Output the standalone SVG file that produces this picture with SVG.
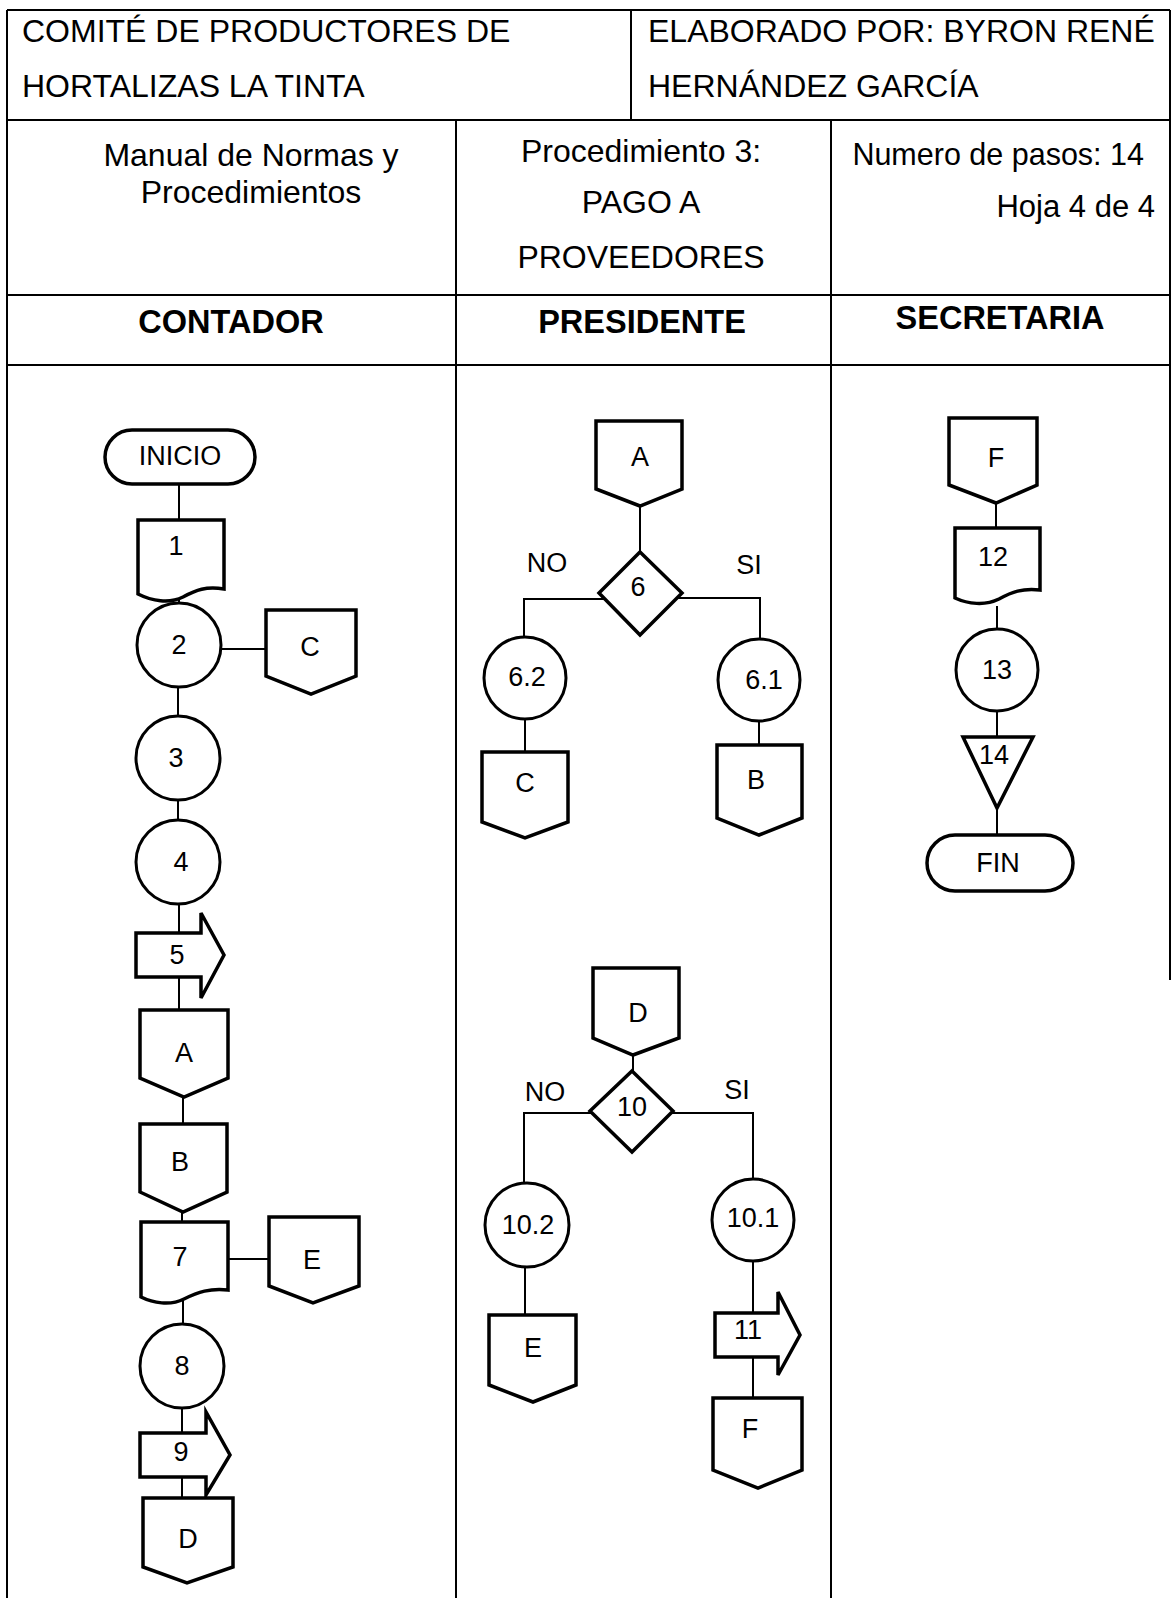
<svg xmlns="http://www.w3.org/2000/svg" width="1173" height="1598" viewBox="0 0 1173 1598">
<style>
.grid{stroke:#000;stroke-width:2;fill:none}
.h{font-family:"Liberation Sans",Arial,sans-serif;font-size:32px;fill:#000}
.hs{font-family:"Liberation Sans",Arial,sans-serif;font-size:30.5px;fill:#000;text-anchor:end}
.hb{font-family:"Liberation Sans",Arial,sans-serif;font-size:32.5px;font-weight:bold;fill:#000}
.t{font-family:"Liberation Sans",Arial,sans-serif;font-size:27px;fill:#000;text-anchor:middle}
.s{fill:#fff;stroke:#000;stroke-width:3.5;stroke-linejoin:miter}
.c{fill:#fff;stroke:#000;stroke-width:3}
.ln{fill:none;stroke:#000;stroke-width:2}
.m{text-anchor:middle}
</style>
<rect width="1173" height="1598" fill="#fff"/>
<g id="table">
<path class="grid" d="M7,10 H1170 M7,10 V1598 M1170,10 V980 M631,10 V120 M7,120 H1170 M456,120 V1598 M831,120 V1598 M7,295 H1170 M7,365 H1170"/>
<text class="h" x="22" y="42">COMITÉ DE PRODUCTORES DE</text>
<text class="h" x="22" y="97">HORTALIZAS LA TINTA</text>
<text class="h" x="648" y="42">ELABORADO POR: BYRON RENÉ</text>
<text class="h" x="648" y="97">HERNÁNDEZ GARCÍA</text>
<text class="h m" x="251" y="166">Manual de Normas y</text>
<text class="h m" x="251" y="203">Procedimientos</text>
<text class="h m" x="641" y="162">Procedimiento 3:</text>
<text class="h m" x="641" y="213">PAGO A</text>
<text class="h m" x="641" y="268">PROVEEDORES</text>
<text class="hs" x="1144" y="165">Numero de pasos: 14</text>
<text class="hs" x="1155" y="217" style="font-size:31px">Hoja 4 de 4</text>
<text class="hb m" x="231" y="333">CONTADOR</text>
<text class="hb m" x="642" y="333">PRESIDENTE</text>
<text class="hb m" x="1000" y="329">SECRETARIA</text>
</g>
<g id="connectors">
<path class="ln" d="M179,484 V520 M179,598 V604 M221,649 H266 M178,687 V716 M178,800 V820 M179,904 V1010 M183,1097 V1124 M182,1212 V1222 M228,1259 H269 M183,1300 V1324 M182,1408 V1498"/>
<path class="ln" d="M640,506 V552 M604,599 H524 V637 M677,598 H760 V639 M525,719 V752 M759,721 V745"/>
<path class="ln" d="M633,1055 V1071 M592,1113 H524 V1183 M671,1113 H753 V1179 M525,1267 V1315 M753,1261 V1398"/>
<path class="ln" d="M996,503 V528 M997,606 V629 M997,711 V737 M997,808 V835"/>
</g>
<g id="inicio"><rect class="s" x="105" y="430" width="150" height="54" rx="27"/><text class="t" x="180" y="465">INICIO</text></g>
<g id="n1"><path class="s" d="M138,520 H224 V589 C206,586 196,590 183,597 C169,604 152,601 138,594 Z"/><text class="t" x="176" y="555">1</text></g>
<g id="n2"><circle class="c" cx="179" cy="645" r="42"/><text class="t" x="179" y="654">2</text></g>
<g id="cC1"><path class="s" d="M266,610 H356 V676 L311,694 L266,676 Z"/><text class="t" x="310" y="656">C</text></g>
<g id="n3"><circle class="c" cx="178" cy="758" r="42"/><text class="t" x="176" y="767">3</text></g>
<g id="n4"><circle class="c" cx="178" cy="862" r="42"/><text class="t" x="181" y="871">4</text></g>
<g id="n5"><path class="s" d="M136,933 H201 V913 L224,955 L201,998 V977 H136 Z"/><text class="t" x="177" y="964">5</text></g>
<g id="cA1"><path class="s" d="M140,1010 H228 V1078 L184,1097 L140,1078 Z"/><text class="t" x="184" y="1062">A</text></g>
<g id="cB1"><path class="s" d="M140,1124 H227 V1192 L183,1212 L140,1192 Z"/><text class="t" x="180" y="1171">B</text></g>
<g id="n7"><path class="s" d="M141,1222 H228 V1290 C210,1288 198,1292 184,1299 C170,1306 153,1303 141,1297 Z"/><text class="t" x="180" y="1266">7</text></g>
<g id="cE1"><path class="s" d="M269,1217 H359 V1286 L313,1303 L269,1286 Z"/><text class="t" x="312" y="1269">E</text></g>
<g id="n8"><circle class="c" cx="182" cy="1366" r="42"/><text class="t" x="182" y="1375">8</text></g>
<g id="n9"><path class="s" d="M140,1433 H206 V1412 L230,1455 L206,1495 V1477 H140 Z"/><text class="t" x="181" y="1461">9</text></g>
<g id="cD1"><path class="s" d="M143,1498 H233 V1567 L187,1583 L143,1567 Z"/><text class="t" x="188" y="1548">D</text></g>

<g id="cA2"><path class="s" d="M596,421 H682 V489 L640,506 L596,489 Z"/><text class="t" x="640" y="466">A</text></g>
<g id="n6"><path class="s" d="M640,552 L682,593 L640,635 L599,593 Z"/><text class="t" x="638" y="596">6</text></g>
<text class="t" x="547" y="572">NO</text>
<text class="t" x="749" y="574">SI</text>
<g id="n62"><circle class="c" cx="525" cy="678" r="41"/><text class="t" x="527" y="686">6.2</text></g>
<g id="cC2"><path class="s" d="M482,752 H568 V822 L525,838 L482,822 Z"/><text class="t" x="525" y="792">C</text></g>
<g id="n61"><circle class="c" cx="759" cy="680" r="41"/><text class="t" x="764" y="689">6.1</text></g>
<g id="cB2"><path class="s" d="M717,745 H802 V818 L759,835 L717,818 Z"/><text class="t" x="756" y="789">B</text></g>

<g id="cD2"><path class="s" d="M593,968 H679 V1038 L633,1055 L593,1038 Z"/><text class="t" x="638" y="1022">D</text></g>
<g id="n10"><path class="s" d="M632,1071 L673,1111 L632,1152 L590,1111 Z"/><text class="t" x="632" y="1116">10</text></g>
<text class="t" x="545" y="1101">NO</text>
<text class="t" x="737" y="1099">SI</text>
<g id="n102"><circle class="c" cx="527" cy="1225" r="42"/><text class="t" x="528" y="1234">10.2</text></g>
<g id="cE2"><path class="s" d="M489,1315 H576 V1385 L533,1402 L489,1385 Z"/><text class="t" x="533" y="1357">E</text></g>
<g id="n101"><circle class="c" cx="753" cy="1220" r="41"/><text class="t" x="753" y="1227">10.1</text></g>
<g id="n11"><path class="s" d="M715,1313 H778 V1292 L800,1335 L778,1375 V1357 H715 Z"/><text class="t" x="748" y="1339">11</text></g>
<g id="cF1"><path class="s" d="M713,1398 H802 V1470 L758,1488 L713,1470 Z"/><text class="t" x="750" y="1438">F</text></g>

<g id="cF2"><path class="s" d="M949,418 H1037 V485 L996,503 L949,485 Z"/><text class="t" x="996" y="467">F</text></g>
<g id="n12"><path class="s" d="M955,528 H1040 V590 C1022,588 1012,592 999,599 C985,606 968,604 955,598 Z"/><text class="t" x="993" y="566">12</text></g>
<g id="n13"><circle class="c" cx="997" cy="670" r="41"/><text class="t" x="997" y="679">13</text></g>
<g id="n14"><path class="s" d="M963,737 H1033 L997,808 Z"/><text class="t" x="994" y="764">14</text></g>
<g id="fin"><rect class="s" x="927" y="835" width="146" height="56" rx="28"/><text class="t" x="998" y="872">FIN</text></g>
</svg>
